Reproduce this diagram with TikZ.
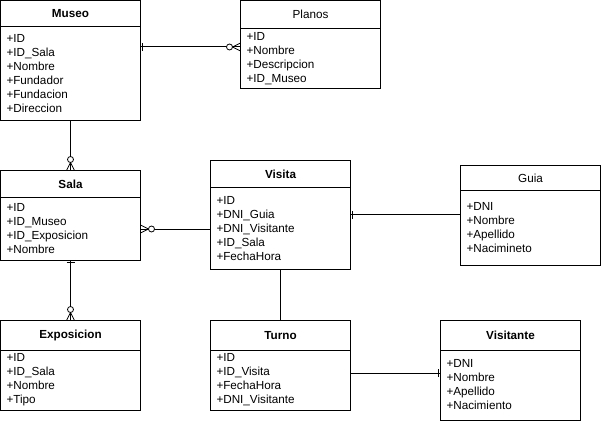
\documentclass[tikz,border=0pt]{standalone}
\usepackage{fontspec}
\setmainfont{Liberation Sans}
\usetikzlibrary{positioning,decorations.markings}
\tikzset{
  tblhead/.style={draw,line width=1pt,outer sep=0pt,inner sep=0pt,anchor=north west,
    minimum width=140pt,font=\fontsize{11.7}{14}\selectfont},
  boldhead/.style={tblhead,font=\fontsize{11.7}{14}\selectfont\bfseries},
  tblbody/.style={draw,line width=1pt,outer sep=0pt,inner xsep=6pt,inner ysep=0pt,
    minimum width=140pt,text width=128pt,align=left,font=\fontsize{11.7}{14}\selectfont},
  rel/.style={line width=1pt},
  onestart/.style={postaction={decorate,decoration={markings,
    mark=at position 0 with {\draw[line width=1pt] (2pt,-4pt)--(2pt,4pt);}}}},
  oneend/.style={postaction={decorate,decoration={markings,
    mark=at position 1 with {\draw[line width=1pt] (-2pt,-4pt)--(-2pt,4pt);}}}},
  zmstart/.style={postaction={decorate,decoration={markings,
    mark=at position 0 with {\draw[line width=0.8pt] (8pt,0)--(0,4pt) (8pt,0)--(0,-4pt);
      \draw[line width=0.8pt,fill=white] (11pt,0) circle (3pt);}}}},
  zmend/.style={postaction={decorate,decoration={markings,
    mark=at position 1 with {\draw[line width=0.8pt] (-8pt,0)--(0,4pt) (-8pt,0)--(0,-4pt);
      \draw[line width=0.8pt,fill=white] (-11pt,0) circle (3pt);}}}}
}
\begin{document}
\begin{tikzpicture}[x=1pt,y=-1pt]
  \useasboundingbox (0,0) rectangle (601,422);
  \node[boldhead,minimum height=26pt] (museo) at (0.5,0.5) {Museo};
  \node[tblbody,minimum height=94pt,below=0pt of museo] (museob)
    {+ID\\+ID\_Sala\\+Nombre\\+Fundador\\+Fundacion\\+Direccion};
  \node[tblhead,minimum height=28.5pt] (planos) at (240.5,0.5) {Planos};
  \node[tblbody,minimum height=60pt,below=0pt of planos] (planosb)
    {+ID\\+Nombre\\+Descripcion\\+ID\_Museo};
  \node[boldhead,minimum height=27pt] (sala) at (0.5,170.5) {Sala};
  \node[tblbody,minimum height=63pt,below=0pt of sala] (salab)
    {+ID\\+ID\_Museo\\+ID\_Exposicion\\+Nombre};
  \node[boldhead,minimum height=27pt] (visita) at (210.5,160.5) {Visita};
  \node[tblbody,minimum height=82pt,below=0pt of visita] (visitab)
    {+ID\\+DNI\_Guia\\+DNI\_Visitante\\+ID\_Sala\\+FechaHora};
  \node[tblhead,minimum height=25pt] (guia) at (460.5,165.5) {Guia};
  \node[tblbody,minimum height=75pt,below=0pt of guia] (guiab)
    {+DNI\\+Nombre\\+Apellido\\+Nacimineto};
  \node[boldhead,minimum height=29.5pt] (expo) at (0.5,320.5) {Exposicion};
  \node[tblbody,minimum height=60pt,below=0pt of expo] (expob)
    {+ID\\+ID\_Sala\\+Nombre\\+Tipo};
  \node[boldhead,minimum height=29.5pt] (turno) at (210.5,320.5) {Turno};
  \node[tblbody,minimum height=60pt,below=0pt of turno] (turnob)
    {+ID\\+ID\_Visita\\+FechaHora\\+DNI\_Visitante};
  \node[boldhead,minimum height=29.5pt] (visitante) at (440.5,320.5) {Visitante};
  \node[tblbody,minimum height=70pt,below=0pt of visitante] (visitanteb)
    {+DNI\\+Nombre\\+Apellido\\+Nacimiento};
  \coordinate (mp) at ([yshift=-20.5pt]museob.north east);
  \coordinate (vg) at ([yshift=14pt]visitab.east);
  \coordinate (tv) at ([yshift=7pt]turnob.east);
  \draw[rel,onestart,zmend] (mp) -- (mp -| planosb.west);
  \draw[rel,zmend] (museob.south) -- (sala.north);
  \draw[rel,zmstart] (salab.east) -- (salab.east -| visitab.west);
  \draw[rel,onestart,zmend] (salab.south) -- (expo.north);
  \draw[rel,onestart] (vg) -- (vg -| guiab.west);
  \draw[rel] (visitab.south) -- (turno.north);
  \draw[rel,oneend] (tv) -- (tv -| visitanteb.west);
\end{tikzpicture}
\end{document}
